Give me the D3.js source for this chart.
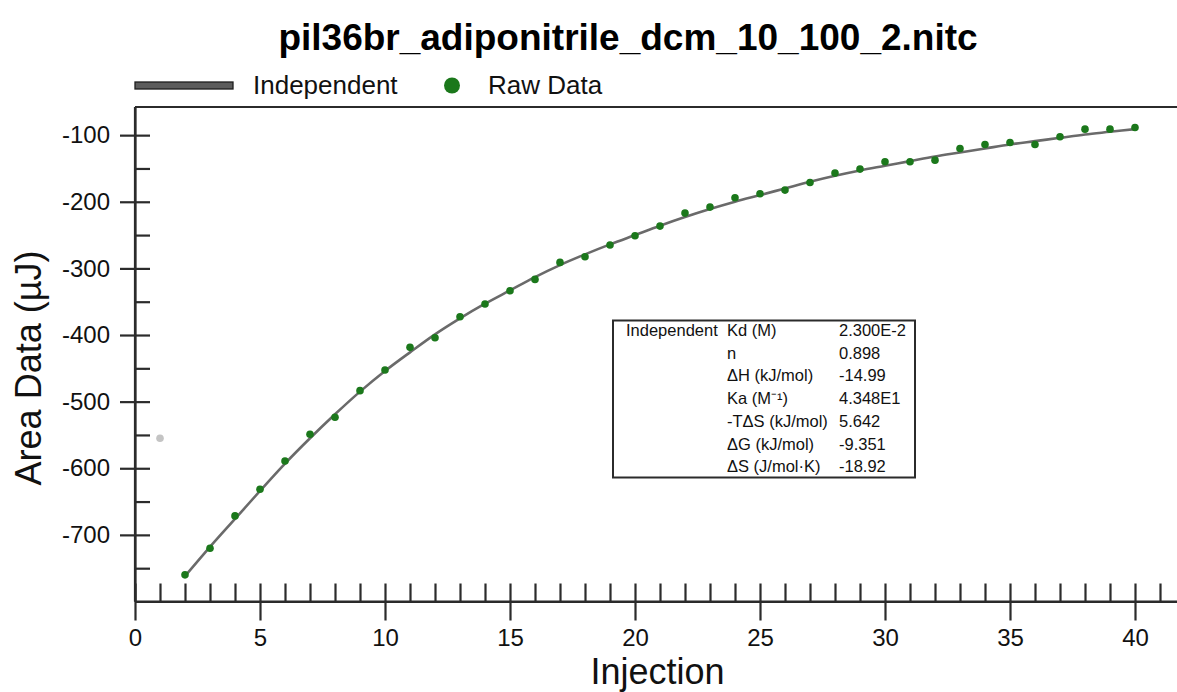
<!DOCTYPE html>
<html>
<head>
<meta charset="utf-8">
<script src="https://cdn.jsdelivr.net/npm/d3@7"></script>
<style>
  html, body { margin: 0; padding: 0; background: #fff; }
  svg { display: block; font-family: "Liberation Sans", Arial, Helvetica, sans-serif; }
</style>
</head>
<body>
<svg id="chart" width="1177" height="692"></svg>
<script>
// ---- data ----
const chartTitle = "pil36br_adiponitrile_dcm_10_100_2.nitc";
const xTitle = "Injection";
const yTitle = "Area Data (µJ)";

const rawInjection = [2,3,4,5,6,7,8,9,10,11,12,13,14,15,16,17,18,19,20,21,22,23,24,25,26,27,28,29,30,31,32,33,34,35,36,37,38,39,40];
const rawArea = [-760,-720,-671.5,-631.5,-589,-549,-523.5,-483.5,-452.5,-418.5,-404,-372.5,-353.5,-333.5,-316.5,-291,-282.5,-265,-251,-236.5,-217,-208,-194,-188,-182.5,-171,-157,-151,-140,-140,-137.5,-120,-114,-111,-114,-102.5,-91,-91,-88.5];

const excludedInjection = [1];
const excludedArea = [-555];

const fitInjection = [2,3,4,5,6,7,8,9,10,11,12,13,14,15,16,17,18,19,20,21,22,23,24,25,26,27,28,29,30,31,32,33,34,35,36,37,38,39,40];
const fitArea = [-762,-718,-676,-634,-593,-555,-519,-485,-454,-426,-399,-375,-353,-333,-313,-295,-279,-264,-250,-236,-223,-211,-200,-190,-180,-170,-161,-153,-146,-139,-132,-126,-120,-114,-109,-104,-99,-95,-91];

const xMajorTicks = [0,5,10,15,20,25,30,35,40];
const xMinorTicks = d3.range(0, 42, 1);
const yMajorTicks = [-700,-600,-500,-400,-300,-200,-100];
const yMinorTicks = [-750,-650,-550,-450,-350,-250,-150];

const legendLabels = ["Independent", "Raw Data"];

const tableModel = "Independent";
const tableParams = ["Kd (M)", "n", "ΔH (kJ/mol)", "Ka (M⁻¹)", "-TΔS (kJ/mol)", "ΔG (kJ/mol)", "ΔS (J/mol·K)"];
const tableValues = ["2.300E-2", "0.898", "-14.99", "4.348E1", "5.642", "-9.351", "-18.92"];

// ---- layout ----
const svg = d3.select("#chart");
const plotLeft = 135, plotRight = 1177, plotTop = 107, plotBottom = 601.5;

const x = d3.scaleLinear().domain([0, 41.68]).range([plotLeft, plotRight]);
const y = d3.scaleLinear().domain([-800, -57.75]).range([plotBottom, plotTop]);

const dark = "#2b2b2b";
const green = "#1b781b";
const plainNum = d => String(d);

// title
svg.append("text")
  .attr("x", 628).attr("y", 50)
  .attr("text-anchor", "middle")
  .attr("font-size", 37).attr("font-weight", "bold")
  .attr("fill", "#000")
  .text(chartTitle);

// legend
const lg = svg.append("g");
lg.append("rect").attr("x", 135).attr("y", 82).attr("width", 98).attr("height", 7)
  .attr("fill", "#5c5c5c").attr("stroke", "#1e1e1e").attr("stroke-width", 1.3);
lg.append("text").attr("x", 253).attr("y", 94).attr("font-size", 26).attr("fill", "#111").text(legendLabels[0]);
lg.append("circle").attr("cx", 452).attr("cy", 85.5).attr("r", 8).attr("fill", green);
lg.append("text").attr("x", 488).attr("y", 94).attr("font-size", 26).attr("fill", "#111").text(legendLabels[1]);

// top border
svg.append("line").attr("x1", plotLeft).attr("x2", plotRight).attr("y1", plotTop).attr("y2", plotTop)
  .attr("stroke", dark).attr("stroke-width", 2.2);

// x axis minor
const xMinorG = svg.append("g").attr("transform", `translate(0,${plotBottom})`)
  .call(d3.axisBottom(x).tickValues(xMinorTicks.filter(v => v % 5 !== 0)).tickSize(-18).tickSizeOuter(0).tickFormat(""));
// x axis major
const xMajorG = svg.append("g").attr("transform", `translate(0,${plotBottom})`)
  .call(d3.axisBottom(x).tickValues(xMajorTicks).tickSize(19).tickSizeOuter(0).tickPadding(8).tickFormat(plainNum));
xMajorG.selectAll(".tick line").attr("y1", -18);
xMajorG.selectAll(".tick text").attr("font-size", 24).attr("fill", "#111");

// y axis minor
const yMinorG = svg.append("g").attr("transform", `translate(${plotLeft},0)`)
  .call(d3.axisLeft(y).tickValues(yMinorTicks).tickSize(-15).tickSizeOuter(0).tickFormat(""));
// y axis major
const yMajorG = svg.append("g").attr("transform", `translate(${plotLeft},0)`)
  .call(d3.axisLeft(y).tickValues(yMajorTicks).tickSize(15).tickSizeOuter(0).tickPadding(10).tickFormat(plainNum));
yMajorG.selectAll(".tick line").attr("x1", 15);
yMajorG.selectAll(".tick text").attr("font-size", 24).attr("fill", "#111");

[xMinorG, xMajorG, yMinorG, yMajorG].forEach(g => {
  g.attr("font-family", null);
  g.selectAll("path.domain").attr("stroke", dark).attr("stroke-width", 2.2);
  g.selectAll(".tick line").attr("stroke", dark).attr("stroke-width", 2.2);
});
xMajorG.select("path.domain").attr("d", `M${plotLeft},0H${plotRight}`);
yMajorG.select("path.domain").attr("d", `M0,${plotTop}V${plotBottom}`);

// axis titles
svg.append("text")
  .attr("x", x(20.9)).attr("y", 684)
  .attr("text-anchor", "middle").attr("font-size", 36).attr("fill", "#111")
  .text(xTitle);
svg.append("text")
  .attr("transform", `translate(41,368) rotate(-90)`)
  .attr("text-anchor", "middle").attr("font-size", 36).attr("fill", "#111")
  .text(yTitle);

// fit line
const fitData = fitInjection.map((d, i) => [d, fitArea[i]]);
svg.append("path")
  .datum(fitData)
  .attr("fill", "none")
  .attr("stroke", "#6a6a6a")
  .attr("stroke-width", 2.6)
  .attr("d", d3.line().x(d => x(d[0])).y(d => y(d[1])).curve(d3.curveMonotoneX));

// excluded point
svg.append("g").selectAll("circle")
  .data(excludedInjection.map((d, i) => [d, excludedArea[i]]))
  .join("circle")
  .attr("cx", d => x(d[0])).attr("cy", d => y(d[1])).attr("r", 3.8)
  .attr("fill", "#c4c4c4");

// raw points
svg.append("g").selectAll("circle")
  .data(rawInjection.map((d, i) => [d, rawArea[i]]))
  .join("circle")
  .attr("cx", d => x(d[0])).attr("cy", d => y(d[1])).attr("r", 3.8)
  .attr("fill", green);

// parameter table
const tb = svg.append("g");
tb.append("rect").attr("x", 613).attr("y", 320.5).attr("width", 302).attr("height", 157)
  .attr("fill", "#fff").attr("stroke", dark).attr("stroke-width", 2);
tb.append("text").attr("x", 626).attr("y", 336).attr("font-size", 16.5).attr("fill", "#111").text(tableModel);
tableParams.forEach((p, i) => {
  tb.append("text").attr("x", 727).attr("y", 336 + i * 22.7).attr("font-size", 16.5).attr("fill", "#111").text(p);
  tb.append("text").attr("x", 839).attr("y", 336 + i * 22.7).attr("font-size", 16.5).attr("fill", "#111").text(tableValues[i]);
});
</script>
</body>
</html>
